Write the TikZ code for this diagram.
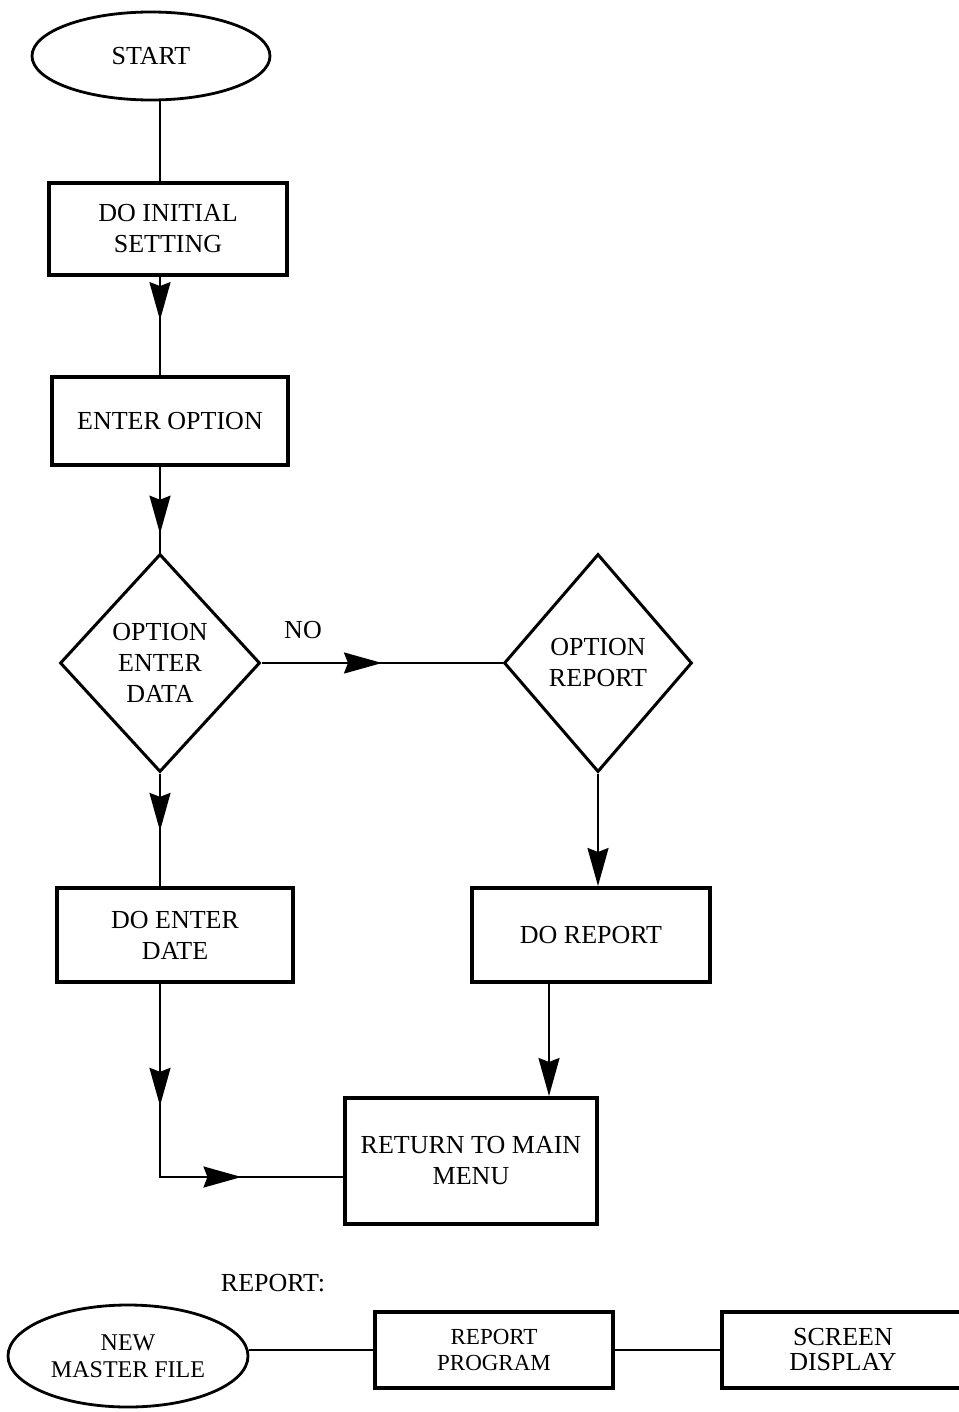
\documentclass[tikz,border=0pt]{standalone}
\usepackage{fontspec}
\setmainfont{Liberation Serif}
\usetikzlibrary{arrows.meta, shapes.geometric, decorations.markings}
\tikzset{
  every picture/.style={line width=1.1pt},
  flowtip/.tip={Stealth[length=19pt, width=10.5pt, inset=2pt]},
  box/.style={draw, line width=2pt, align=center, inner sep=2pt, font=\fontsize{13}{15.5}\selectfont},
  terminal/.style={draw, ellipse, line width=1.4pt, align=center, inner sep=0pt, font=\fontsize{13}{15.5}\selectfont},
  decision/.style={draw, diamond, line width=1.5pt, align=center, inner sep=0pt, font=\fontsize{13}{15.5}\selectfont},
  label/.style={font=\fontsize{13}{15.5}\selectfont},
  arrow/.style={-{flowtip}},
  arrowat/.style={postaction={decorate}, decoration={markings, mark=at position #1 with {\arrow{flowtip}}}},
  arrowtwo/.style 2 args={postaction={decorate}, decoration={markings,
      mark=at position #1 with {\arrow{flowtip}}, mark=at position #2 with {\arrow{flowtip}}}},
}

\begin{document}
\begin{tikzpicture}[x=0.5pt, y=-0.5pt]
  \useasboundingbox (0,0) rectangle (958,1412);
  % main menu flow
  \node[terminal, minimum width=119pt, minimum height=44pt] (start) at (151,56) {START};
  \node[box, minimum width=119pt, minimum height=46pt] (init) at (168,229) {DO INITIAL\\SETTING};
  \node[box, minimum width=118pt, minimum height=44pt] (enter) at (170,421) {ENTER OPTION};
  \node[decision, minimum width=100pt, minimum height=109pt] (d1) at (160,663) {OPTION\\ENTER\\DATA};
  \node[decision, minimum width=94pt, minimum height=109pt] (d2) at (598,663) {OPTION\\REPORT};
  \node[label] (no) at (303,630) {NO};
  \node[box, minimum width=118pt, minimum height=47pt] (dentry) at (175,935) {DO ENTER\\DATE};
  \node[box, minimum width=119pt, minimum height=47pt] (dreport) at (591,935) {DO REPORT};
  \node[box, minimum width=126pt, minimum height=63pt] (ret) at (471,1161) {RETURN TO MAIN\\MENU};

  \draw ([xshift=4.5pt]start.south) -- ([xshift=-4pt]init.north);
  \draw[arrowat=0.44] ([xshift=-4pt]init.south) -- ([xshift=-5pt]enter.north);
  \draw[arrowat=0.78] ([xshift=-5pt]enter.south) -- (d1.north);
  \draw[arrowat=0.5] (d1.east) -- (d2.west);
  \draw[arrowat=0.51] (d1.south) -- (d1.south |- dentry.north);
  \draw[arrow] (d2.south) -- (d2.south |- dreport.north);
  \draw[arrow] ([xshift=-21pt]dreport.south) -- ([xshift=-21pt]dreport.south |- ret.north);
  \draw[arrowtwo={0.324}{0.73}] (d1.south |- dentry.south) |- ([yshift=-8pt]ret.west);

  % report program
  \node[label] (replabel) at (273,1283) {REPORT:};
  \node[terminal, minimum width=120pt, minimum height=51pt, font=\fontsize{12}{13.5}\selectfont] (master) at (128,1356) {NEW\\MASTER FILE};
  \node[box, minimum width=119pt, minimum height=38pt, font=\fontsize{11.5}{13}\selectfont] (rprog) at (494,1350) {REPORT\\PROGRAM};
  \node[box, minimum width=121pt, minimum height=38pt, font=\fontsize{13}{12.5}\selectfont] (screen) at (843,1350) {SCREEN\\DISPLAY};
  \draw (master.east |- rprog.west) -- (rprog.west);
  \draw (rprog.east) -- (screen.west);
\end{tikzpicture}
\end{document}
